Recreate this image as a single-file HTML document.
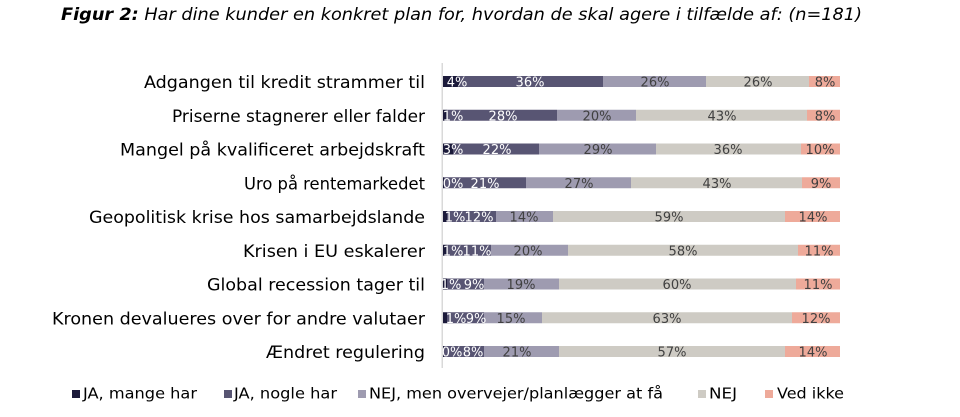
<!DOCTYPE html>
<html>
<head>
<meta charset="utf-8">
<style>
html,body{margin:0;padding:0;background:#fff;}
svg{display:block;}
text{font-family:"DejaVu Sans","Liberation Sans",sans-serif;}
</style>
</head>
<body>
<svg width="960" height="417" viewBox="0 0 960 417" xmlns="http://www.w3.org/2000/svg">
<rect width="960" height="417" fill="#fff"/>
<!-- Title -->
<text x="61" y="20" font-size="16.5" font-style="italic" fill="#000" textLength="801" lengthAdjust="spacingAndGlyphs"><tspan font-weight="bold">Figur 2:</tspan> Har dine kunder en konkret plan for, hvordan de skal agere i tilfælde af: (n=181)</text>

<!-- axis -->
<rect x="441.5" y="63" width="1.5" height="305" fill="#d9d9d9"/>

<!-- Category labels -->
<g font-size="17" fill="#000" text-anchor="end">
<text x="425" y="88" textLength="281" lengthAdjust="spacingAndGlyphs">Adgangen til kredit strammer til</text>
<text x="425" y="121.75" textLength="253" lengthAdjust="spacingAndGlyphs">Priserne stagnerer eller falder</text>
<text x="425" y="155.5" textLength="305" lengthAdjust="spacingAndGlyphs">Mangel på kvalificeret arbejdskraft</text>
<text x="425" y="189.25" textLength="181" lengthAdjust="spacingAndGlyphs">Uro på rentemarkedet</text>
<text x="425" y="223" textLength="336" lengthAdjust="spacingAndGlyphs">Geopolitisk krise hos samarbejdslande</text>
<text x="425" y="256.75" textLength="182" lengthAdjust="spacingAndGlyphs">Krisen i EU eskalerer</text>
<text x="425" y="290.5" textLength="218" lengthAdjust="spacingAndGlyphs">Global recession tager til</text>
<text x="425" y="324.25" textLength="373" lengthAdjust="spacingAndGlyphs">Kronen devalueres over for andre valutaer</text>
<text x="425" y="358" textLength="159" lengthAdjust="spacingAndGlyphs">Ændret regulering</text>
</g>

<!-- Bars -->
<g>
<rect x="443" y="76" width="16" height="11" fill="#1b1a3a"/>
<rect x="459" y="76" width="144" height="11" fill="#585573"/>
<rect x="603" y="76" width="103" height="11" fill="#9e9bb0"/>
<rect x="706" y="76" width="103" height="11" fill="#cecbc4"/>
<rect x="809" y="76" width="31" height="11" fill="#eeaa9a"/>

<rect x="443" y="109.75" width="4" height="11" fill="#1b1a3a"/>
<rect x="447" y="109.75" width="110" height="11" fill="#585573"/>
<rect x="557" y="109.75" width="79" height="11" fill="#9e9bb0"/>
<rect x="636" y="109.75" width="171" height="11" fill="#cecbc4"/>
<rect x="807" y="109.75" width="33" height="11" fill="#eeaa9a"/>

<rect x="443" y="143.5" width="10" height="11" fill="#1b1a3a"/>
<rect x="453" y="143.5" width="86" height="11" fill="#585573"/>
<rect x="539" y="143.5" width="117" height="11" fill="#9e9bb0"/>
<rect x="656" y="143.5" width="145" height="11" fill="#cecbc4"/>
<rect x="801" y="143.5" width="39" height="11" fill="#eeaa9a"/>

<rect x="443" y="177.25" width="1" height="11" fill="#1b1a3a"/>
<rect x="444" y="177.25" width="82" height="11" fill="#585573"/>
<rect x="526" y="177.25" width="105" height="11" fill="#9e9bb0"/>
<rect x="631" y="177.25" width="171" height="11" fill="#cecbc4"/>
<rect x="802" y="177.25" width="38" height="11" fill="#eeaa9a"/>

<rect x="443" y="211" width="4" height="11" fill="#1b1a3a"/>
<rect x="447" y="211" width="49" height="11" fill="#585573"/>
<rect x="496" y="211" width="57" height="11" fill="#9e9bb0"/>
<rect x="553" y="211" width="232" height="11" fill="#cecbc4"/>
<rect x="785" y="211" width="55" height="11" fill="#eeaa9a"/>

<rect x="443" y="244.75" width="4" height="11" fill="#1b1a3a"/>
<rect x="447" y="244.75" width="44" height="11" fill="#585573"/>
<rect x="491" y="244.75" width="77" height="11" fill="#9e9bb0"/>
<rect x="568" y="244.75" width="230" height="11" fill="#cecbc4"/>
<rect x="798" y="244.75" width="42" height="11" fill="#eeaa9a"/>

<rect x="443" y="278.5" width="4" height="11" fill="#1b1a3a"/>
<rect x="447" y="278.5" width="37" height="11" fill="#585573"/>
<rect x="484" y="278.5" width="75" height="11" fill="#9e9bb0"/>
<rect x="559" y="278.5" width="237" height="11" fill="#cecbc4"/>
<rect x="796" y="278.5" width="44" height="11" fill="#eeaa9a"/>

<rect x="443" y="312.25" width="4" height="11" fill="#1b1a3a"/>
<rect x="447" y="312.25" width="37" height="11" fill="#585573"/>
<rect x="484" y="312.25" width="58" height="11" fill="#9e9bb0"/>
<rect x="542" y="312.25" width="250" height="11" fill="#cecbc4"/>
<rect x="792" y="312.25" width="48" height="11" fill="#eeaa9a"/>

<rect x="443" y="346" width="1" height="11" fill="#1b1a3a"/>
<rect x="444" y="346" width="40" height="11" fill="#585573"/>
<rect x="484" y="346" width="75" height="11" fill="#9e9bb0"/>
<rect x="559" y="346" width="226" height="11" fill="#cecbc4"/>
<rect x="785" y="346" width="55" height="11" fill="#eeaa9a"/>
</g>

<!-- Value labels -->
<g font-size="13" text-anchor="middle">
<g fill="#ffffff">
<text x="457" y="86.5">4%</text><text x="530" y="86.5">36%</text>
<text x="453" y="120.25">1%</text><text x="503" y="120.25">28%</text>
<text x="453" y="154">3%</text><text x="497" y="154">22%</text>
<text x="453" y="187.75">0%</text><text x="485" y="187.75">21%</text>
<text x="455" y="221.5">1%</text><text x="479" y="221.5">12%</text>
<text x="453" y="255.25">1%</text><text x="477" y="255.25">11%</text>
<text x="451" y="289">1%</text><text x="474" y="289">9%</text>
<text x="456" y="322.75">1%</text><text x="476" y="322.75">9%</text>
<text x="452" y="356.5">0%</text><text x="473" y="356.5">8%</text>
</g>
<g fill="#404040">
<text x="655" y="86.5">26%</text><text x="758" y="86.5">26%</text><text x="825" y="86.5">8%</text>
<text x="597" y="120.25">20%</text><text x="722" y="120.25">43%</text><text x="825" y="120.25">8%</text>
<text x="598" y="154">29%</text><text x="728" y="154">36%</text><text x="820" y="154">10%</text>
<text x="579" y="187.75">27%</text><text x="717" y="187.75">43%</text><text x="821" y="187.75">9%</text>
<text x="524" y="221.5">14%</text><text x="669" y="221.5">59%</text><text x="813" y="221.5">14%</text>
<text x="528" y="255.25">20%</text><text x="683" y="255.25">58%</text><text x="819" y="255.25">11%</text>
<text x="521" y="289">19%</text><text x="677" y="289">60%</text><text x="818" y="289">11%</text>
<text x="511" y="322.75">15%</text><text x="667" y="322.75">63%</text><text x="816" y="322.75">12%</text>
<text x="517" y="356.5">21%</text><text x="672" y="356.5">57%</text><text x="813" y="356.5">14%</text>
</g>
</g>

<!-- Legend -->
<g font-size="15" fill="#000">
<rect x="72" y="390" width="8" height="8" fill="#1b1a3a"/>
<text x="83" y="398.5" textLength="114" lengthAdjust="spacingAndGlyphs">JA, mange har</text>
<rect x="224" y="390" width="8" height="8" fill="#585573"/>
<text x="234" y="398.5" textLength="103" lengthAdjust="spacingAndGlyphs">JA, nogle har</text>
<rect x="358" y="390" width="8" height="8" fill="#9e9bb0"/>
<text x="369" y="398.5" textLength="294" lengthAdjust="spacingAndGlyphs">NEJ, men overvejer/planlægger at få</text>
<rect x="698" y="390" width="8" height="8" fill="#cecbc4"/>
<text x="709" y="398.5" textLength="28" lengthAdjust="spacingAndGlyphs">NEJ</text>
<rect x="765" y="390" width="8" height="8" fill="#eeaa9a"/>
<text x="777" y="398.5" textLength="67" lengthAdjust="spacingAndGlyphs">Ved ikke</text>
</g>
</svg>
</body>
</html>
